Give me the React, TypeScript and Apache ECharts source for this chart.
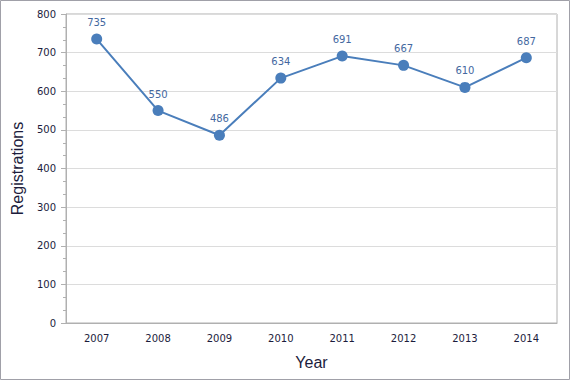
import React, { useEffect, useRef } from "react";
import * as echarts from "echarts";

const years = ["2007", "2008", "2009", "2010", "2011", "2012", "2013", "2014"];
const registrations = [735, 550, 486, 634, 691, 667, 610, 687];
const minorCats = Array.from({ length: years.length * 5 }, (_, i) => String(i));

export default function App() {
  const ref = useRef<HTMLDivElement>(null);
  useEffect(() => {
    document.body.style.margin = "0";
    const chart = echarts.init(ref.current!, null, { renderer: "svg" });
    const axisColor = "#b0b0b0";
    const labelFont = { fontFamily: "DejaVu Sans", fontSize: 10, color: "#1c1c3c" };
    chart.setOption({
      animation: false,
      backgroundColor: "#ffffff",
      grid: {
        left: 66,
        right: 13,
        top: 14,
        bottom: 57,
        show: true,
        borderColor: axisColor,
        borderWidth: 1,
      },
      graphic: [
        {
          type: "rect",
          shape: { x: 0.5, y: 0.5, width: 569, height: 379 },
          style: { fill: "none", stroke: "#a0a0a8", lineWidth: 1 },
          silent: true,
        },
      ],
      xAxis: [
        {
          type: "category",
          data: years,
          boundaryGap: true,
          name: "Year",
          nameLocation: "middle",
          nameGap: 31,
          nameTextStyle: { fontFamily: "Liberation Sans", fontSize: 16, color: "#1c1c3c" },
          axisLine: { lineStyle: { color: axisColor } },
          axisTick: { alignWithLabel: true, length: 5, lineStyle: { color: axisColor } },
          axisLabel: { ...labelFont, margin: 10 },
          splitLine: { show: false },
        },
        {
          type: "category",
          data: minorCats,
          boundaryGap: true,
          position: "bottom",
          axisLine: { show: false },
          axisTick: { alignWithLabel: true, interval: 0, length: 3, lineStyle: { color: axisColor } },
          axisLabel: { show: false },
          splitLine: { show: false },
        },
      ],
      yAxis: {
        type: "value",
        min: 0,
        max: 800,
        interval: 100,
        name: "Registrations",
        nameLocation: "middle",
        nameGap: 41,
        nameRotate: 90,
        nameTextStyle: { fontFamily: "Liberation Sans", fontSize: 16, color: "#1c1c3c" },
        axisLine: { show: true, lineStyle: { color: axisColor } },
        axisTick: { show: true, length: 5, lineStyle: { color: axisColor } },
        minorTick: { show: true, splitNumber: 3, length: 3, lineStyle: { color: axisColor } },
        axisLabel: { ...labelFont, margin: 10 },
        splitLine: { lineStyle: { color: "#dcdcdc" } },
      },
      series: [
        {
          type: "line",
          xAxisIndex: 0,
          data: registrations,
          symbol: "circle",
          symbolSize: 11,
          lineStyle: { color: "#4a7ebb", width: 2 },
          itemStyle: { color: "#4a7ebb" },
          label: {
            show: true,
            position: "top",
            distance: 6,
            fontFamily: "DejaVu Sans",
            fontSize: 10,
            color: "#44689f",
          },
        },
      ],
    });
    return () => chart.dispose();
  }, []);
  return <div ref={ref} style={{ width: 570, height: 380 }} />;
}
